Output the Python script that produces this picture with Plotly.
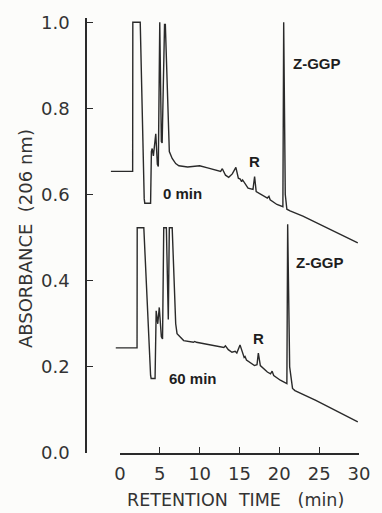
import plotly.graph_objects as go

# ---- data ----
t_0min = [-1.13, 1.60, 1.62, 2.55, 3.05, 3.12, 3.85, 3.95, 4.05, 4.20, 4.50, 4.70, 4.82,
          4.92, 5.00, 5.20, 5.30, 5.60, 5.70, 6.20, 6.56, 7.00, 7.40, 8.50, 9.20, 10.00,
          11.00, 12.64, 12.85, 13.25, 13.65, 14.10, 14.55, 14.86, 15.10, 15.27, 15.40,
          16.08, 16.70, 16.90, 17.10, 18.00, 18.50, 18.70, 18.85, 19.70, 20.30, 20.45,
          20.55, 20.75, 20.95, 21.35, 22.96, 25.00, 29.85]
a_0min = [0.654, 0.654, 1.000, 1.000, 0.590, 0.580, 0.580, 0.700, 0.707, 0.690, 0.741, 0.670, 0.665,
          1.000, 1.000, 0.723, 0.720, 0.995, 0.995, 0.700, 0.684, 0.672, 0.667, 0.664, 0.665, 0.667,
          0.662, 0.654, 0.660, 0.645, 0.640, 0.648, 0.663, 0.638, 0.636, 0.630, 0.634,
          0.615, 0.612, 0.642, 0.607, 0.597, 0.592, 0.596, 0.588, 0.577, 0.573, 0.572,
          1.000, 0.600, 0.566, 0.562, 0.550, 0.532, 0.488]

t_60min = [-0.52, 2.15, 2.17, 3.00, 3.85, 3.92, 4.41, 4.48, 4.55, 4.75, 4.94, 5.20, 5.35,
           5.50, 5.83, 6.07, 6.20, 6.56, 7.00, 7.17, 8.00, 9.23, 9.39, 9.60, 10.80, 13.04,
           13.24, 13.60, 14.06, 14.46, 14.67, 15.07, 15.59, 15.70, 15.88, 16.88, 17.20,
           17.37, 17.62, 18.50, 18.90, 19.10, 19.30, 20.13, 20.95, 21.05, 21.30, 21.66,
           21.96, 23.37, 24.58, 29.85]
a_60min = [0.244, 0.244, 0.523, 0.523, 0.180, 0.173, 0.173, 0.300, 0.330, 0.300, 0.338, 0.270, 0.265,
           0.523, 0.523, 0.310, 0.523, 0.523, 0.300, 0.277, 0.261, 0.257, 0.259, 0.257, 0.253, 0.245,
           0.249, 0.240, 0.234, 0.236, 0.232, 0.251, 0.222, 0.224, 0.216, 0.203, 0.205,
           0.232, 0.203, 0.188, 0.184, 0.190, 0.180, 0.169, 0.161, 0.531, 0.200, 0.150,
           0.145, 0.133, 0.122, 0.072]

x_ticks = [0, 5, 10, 15, 20, 25, 30]
y_ticks = [0.0, 0.2, 0.4, 0.6, 0.8, 1.0]
y_tick_labels = ["0.0", "0.2", "0.4", "0.6", "0.8", "1.0"]

labels = [
    ("0 min", 5.10, 0.603, "left"),
    ("60 min", 5.95, 0.173, "left"),
    ("R", 16.90, 0.677, "center"),
    ("R", 17.37, 0.266, "center"),
    ("Z-GGP", 21.45, 0.904, "left"),
    ("Z-GGP", 21.85, 0.442, "left"),
]

# ---- layout geometry ----
W, H = 382, 513
L, R, B, T = 87, 14, 60, 16
d0 = 34 / 281  # x-axis starts to the right of the y-axis
xmin = -30 * d0 / (1 - d0)

ink = "#2a2a2a"
tick_font = dict(family="DejaVu Sans", size=18, color="#333333")
lab_font = dict(family="Liberation Sans", size=15, color="#1e1e1e")

fig = go.Figure()
for t, a in [(t_0min, a_0min), (t_60min, a_60min)]:
    fig.add_trace(go.Scatter(x=t, y=a, mode="lines", showlegend=False,
                             line=dict(color=ink, width=1.4), hoverinfo="skip"))
fig.add_trace(go.Scatter(x=[], y=[], xaxis="x2", yaxis="y", showlegend=False))

for txt, x, y, xa in labels:
    fig.add_annotation(text=f"<b>{txt}</b>", x=x, y=y, xref="x", yref="y",
                       xanchor=xa, yanchor="middle", showarrow=False, font=lab_font)

fig.add_annotation(text="RETENTION\u00a0 TIME \u00a0\u00a0(min)", xref="paper", yref="paper",
                   x=(240 - L) / (W - L - R), y=-0.107, xanchor="center", yanchor="middle",
                   showarrow=False, font=dict(family="DejaVu Sans", size=17.5, color="#333333"))
fig.add_annotation(text="ABSORBANCE\u00a0 (206 nm)", xref="paper", yref="paper",
                   x=0, xshift=-62, y=0.4917, xanchor="center", yanchor="middle",
                   textangle=-90, showarrow=False,
                   font=dict(family="DejaVu Sans", size=18, color="#333333"))

fig.update_layout(
    width=W, height=H, margin=dict(l=L, r=R, t=T, b=B),
    paper_bgcolor="#fcfcfa", plot_bgcolor="rgba(0,0,0,0)",
    xaxis=dict(domain=[0, 1], range=[xmin, 30], visible=False, fixedrange=True),
    xaxis2=dict(domain=[d0, 1], anchor="y", range=[0, 30], showline=True, linecolor=ink,
                linewidth=1.5, ticks="inside", ticklen=6, tickwidth=1.3, tickcolor=ink,
                tickvals=x_ticks, showgrid=False, zeroline=False, tickfont=tick_font,
                ticklabelstandoff=4),
    yaxis=dict(range=[0, 1.01], anchor="x", showline=True, linecolor=ink, linewidth=1.5,
               ticks="inside", ticklen=6, tickwidth=1.3, tickcolor=ink,
               tickvals=y_ticks, ticktext=y_tick_labels, showgrid=False, zeroline=False,
               tickfont=tick_font, ticklabelstandoff=12),
)

fig.write_html("out.html")
